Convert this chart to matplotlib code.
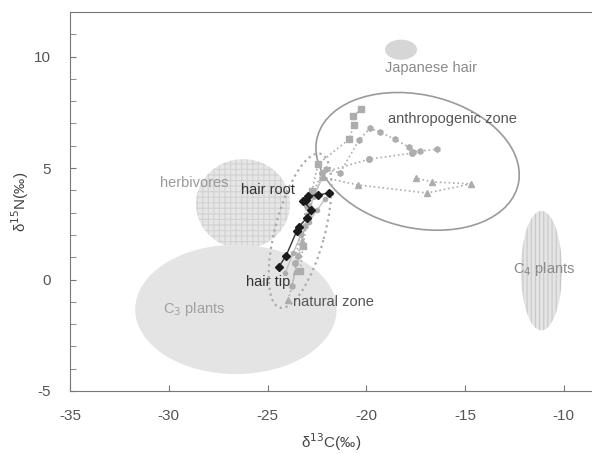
import matplotlib.pyplot as plt
from matplotlib.patches import Ellipse

plt.rcParams['font.family'] = ['Liberation Sans', 'DejaVu Sans']
plt.rcParams['axes.unicode_minus'] = False
plt.rcParams['hatch.linewidth'] = 0.8

# hair profile (black diamonds), tip -> root
hair_x = [-24.42, -24.06, -23.51, -23.41, -23.00, -22.80, -23.20, -23.05, -22.95, -22.44, -21.89]
hair_y = [0.58, 1.07, 2.19, 2.37, 2.77, 3.13, 3.53, 3.57, 3.75, 3.79, 3.88]

# second profile inside natural zone (grey, solid)
hair2_x = [-24.1, -23.7, -23.3, -22.9, -22.5, -22.1, -21.8]
hair2_y = [0.3, 1.2, 2.0, 2.6, 3.1, 3.6, 3.9]

# profiles moving into the anthropogenic zone (grey, dotted)
sq_x = [-23.35, -23.20, -22.95, -22.75, -22.44, -20.87, -20.62, -20.67, -20.27]
sq_y = [0.40, 1.52, 2.86, 3.97, 5.18, 6.29, 6.92, 7.32, 7.63]

ci1_x = [-23.76, -23.46, -23.10, -22.65, -22.04, -21.33, -20.37, -19.81, -19.30, -18.54, -17.84, -17.63, -17.28, -16.42]
ci1_y = [-0.27, 1.07, 2.41, 3.75, 4.96, 4.78, 6.25, 6.79, 6.61, 6.29, 5.94, 5.71, 5.76, 5.85]

ci2_x = [-23.60, -23.35, -23.00, -22.24, -19.86, -17.68]
ci2_y = [0.76, 2.10, 3.30, 4.78, 5.40, 5.67]

tri_x = [-23.96, -23.56, -23.25, -22.85, -22.24, -20.42, -16.92, -14.70, -16.67, -17.48]
tri_y = [-0.94, 0.40, 1.74, 3.30, 4.60, 4.24, 3.88, 4.29, 4.38, 4.55]

# reference regions: (centre x, centre y, width, height, angle)
c3_region = (-26.6, -1.34, 10.2, 5.8, 0)
herb_region = (-26.24, 3.39, 4.76, 4.02, 0)
c4_region = (-11.13, 0.40, 2.08, 5.36, 0)
jp_region = (-18.24, 10.31, 1.62, 0.90, 0)
anthro_region = (-17.4, 5.3, 10.4, 6.0, -10)
natural_region = (-23.35, 2.19, 7.2, 2.5, 73)

fig = plt.figure(figsize=(5.92, 4.54), dpi=100)
ax = fig.add_axes([70/592, 63/454, 522/592, 379/454])

def region(r, **kw):
    e = Ellipse((r[0], r[1]), r[2], r[3], angle=r[4], **kw)
    ax.add_patch(e)
    return e

region(herb_region, facecolor='#e6e6e6', edgecolor='#d2d2d2', hatch='+++', linewidth=0, zorder=1)
region(c3_region, facecolor='#e4e4e4', edgecolor='none', zorder=2)
region(c4_region, facecolor='#e4e4e4', edgecolor='#c8c8c8', hatch='||||', linewidth=0, zorder=1)
region(jp_region, facecolor='#d6d6d6', edgecolor='none', zorder=1)
region(anthro_region, facecolor='none', edgecolor='#9a9a9a', linewidth=1.2, zorder=3)
region(natural_region, facecolor='none', edgecolor='#aaaaaa', linewidth=1.6, linestyle=':', zorder=3)

grey = '#adadad'
ax.plot(hair2_x, hair2_y, '-', color='#c2c2c2', lw=1, marker='o', ms=3, mfc=grey, mec=grey, zorder=4)
ax.plot(sq_x, sq_y, ':', color=grey, lw=1.2, marker='s', ms=4, mfc=grey, mec=grey, zorder=4)
ax.plot(ci1_x, ci1_y, ':', color=grey, lw=1.2, marker='h', ms=4, mfc=grey, mec=grey, zorder=4)
ax.plot(ci2_x, ci2_y, ':', color=grey, lw=1.2, marker='o', ms=4, mfc=grey, mec=grey, zorder=4)
ax.plot(tri_x, tri_y, ':', color=grey, lw=1.2, marker='^', ms=4.5, mfc=grey, mec=grey, zorder=4)
ax.plot(hair_x, hair_y, '-', color='#333333', lw=1, marker='D', ms=4.5, mfc='#1a1a1a', mec='#1a1a1a', zorder=5)

# labels
ax.text(-16.72, 9.51, 'Japanese hair', color='#8a8a8a', fontsize=10.5, ha='center', va='center')
ax.text(-15.66, 7.19, 'anthropogenic zone', color='#555555', fontsize=10.5, ha='center', va='center')
ax.text(-28.72, 4.33, 'herbivores', color='#999999', fontsize=10.5, ha='center', va='center')
ax.text(-24.97, 4.02, 'hair root', color='#333333', fontsize=10.5, ha='center', va='center', zorder=6)
ax.text(-24.97, -0.13, 'hair tip', color='#333333', fontsize=10.5, ha='center', va='center', zorder=6)
ax.text(-21.68, -1.03, 'natural zone', color='#555555', fontsize=10.5, ha='center', va='center', zorder=6)
ax.text(-28.72, -1.34, r'C$_3$ plants', color='#a0a0a0', fontsize=10.5, ha='center', va='center', zorder=6)
ax.text(-11.0, 0.45, r'C$_4$ plants', color='#8a8a8a', fontsize=10.5, ha='center', va='center', zorder=6)

# axes
ax.set_xlim(-35, -8.57)
ax.set_ylim(-5, 12)
ax.set_xticks([-35, -30, -25, -20, -15, -10])
ax.set_yticks([-5, 0, 5, 10])
ax.set_yticks(range(-5, 12), minor=True)
ax.tick_params(axis='both', which='both', direction='in', colors='#777777', labelcolor='#555555', labelsize=11)
ax.tick_params(axis='both', which='major', length=4)
ax.tick_params(axis='y', which='minor', length=4)
ax.tick_params(axis='x', pad=13)
ax.tick_params(axis='y', pad=14)
for s in ['left', 'bottom', 'top']:
    ax.spines[s].set_color('#777777')
ax.spines['right'].set_visible(False)

ax.set_xlabel(r'δ$^{13}$C(‰)', color='#444444', fontsize=11, labelpad=6)
ax.set_ylabel(r'δ$^{15}$N(‰)', color='#444444', fontsize=11, labelpad=2)

fig.savefig('out.png', dpi=100)
